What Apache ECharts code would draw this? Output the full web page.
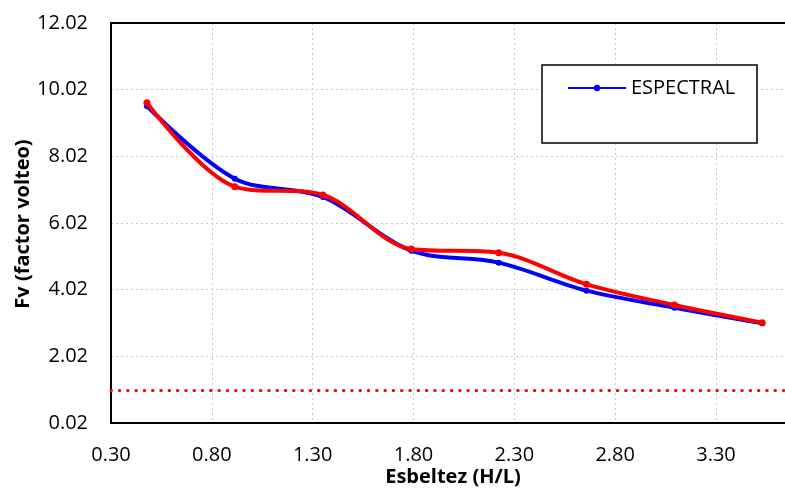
<!DOCTYPE html>
<html>
<head>
<meta charset="utf-8">
<script src="https://cdn.jsdelivr.net/npm/echarts@6/dist/echarts.min.js"></script>
<style>html,body{margin:0;padding:0;background:#fff}#c{width:785px;height:489px}</style>
</head>
<body>
<div id="c"></div>
<script>
const xValues = [0.478, 0.914, 1.351, 1.789, 2.222, 2.658, 3.094, 3.529];
const espectral = [9.53, 7.35, 6.80, 5.19, 4.83, 3.99, 3.48, 3.01];
const otra = [9.63, 7.11, 6.86, 5.24, 5.13, 4.18, 3.56, 3.03];
const limitValue = 1.0;
const seriesNames = ['ESPECTRAL', 'ESTATICO'];
const xTitle = 'Esbeltez (H/L)';
const yTitle = 'Fv (factor volteo)';

const FONT = 'Open Sans';
const chart = echarts.init(document.getElementById('c'), null, {renderer: 'canvas'});
const pairs = (xs, ys) => xs.map((x, i) => [x, ys[i]]);

chart.setOption({
  animation: false,
  backgroundColor: '#fff',
  grid: {left: 111, top: 23, right: 0, bottom: 66, containLabel: false},
  xAxis: {
    type: 'value', min: 0.3, max: 3.642, interval: 0.5,
    axisLine: {show: true, onZero: false, lineStyle: {color: '#000', width: 2}},
    axisTick: {show: false},
    axisLabel: {color: '#000', fontFamily: FONT, fontSize: 20, margin: 22,
      showMaxLabel: false, formatter: v => v.toFixed(2)},
    splitLine: {show: true, lineStyle: {color: '#c8c8c8', type: [2, 3], width: 1}}
  },
  yAxis: {
    type: 'value', min: 0.02, max: 12.02, interval: 2,
    axisLine: {show: true, onZero: false, lineStyle: {color: '#000', width: 2}},
    axisTick: {show: false},
    axisLabel: {color: '#000', fontFamily: FONT, fontSize: 20, margin: 23,
      formatter: v => v.toFixed(2)},
    splitLine: {show: true, lineStyle: {color: '#c8c8c8', type: [2, 3], width: 1}}
  },
  legend: {
    show: true, data: [seriesNames[0]],
    left: 567, top: 78, padding: 0, z: 10,
    orient: 'vertical', align: 'left',
    itemWidth: 58, itemHeight: 8,
    textStyle: {color: '#000', fontFamily: FONT, fontSize: 20}
  },
  graphic: [
    {type: 'rect', shape: {x: 111, y: 23, width: 700, height: 400},
     style: {fill: 'none', stroke: '#000', lineWidth: 2}, silent: true, z: 2},
    {type: 'rect', shape: {x: 542, y: 65, width: 215, height: 78},
     style: {fill: '#fff', stroke: '#000', lineWidth: 1.5}, silent: true, z: 5},
    {type: 'text', x: 453, y: 477,
     style: {text: xTitle, font: 'bold 20px "Open Sans"', fill: '#000', textAlign: 'center', textVerticalAlign: 'middle'}},
    {type: 'text', x: 23, y: 224, rotation: Math.PI / 2,
     style: {text: yTitle, font: 'bold 20px "Open Sans"', fill: '#000', textAlign: 'center', textVerticalAlign: 'middle'}}
  ],
  series: [
    {
      name: seriesNames[0], type: 'line', smooth: 0.33,
      data: pairs(xValues, espectral),
      symbol: 'circle', symbolSize: 6,
      lineStyle: {color: '#0000ff', width: 4},
      itemStyle: {color: '#0000ff'}, z: 3
    },
    {
      name: seriesNames[1], type: 'line', smooth: 0.33,
      data: pairs(xValues, otra),
      symbol: 'circle', symbolSize: 7,
      lineStyle: {color: '#ff0000', width: 4},
      itemStyle: {color: '#ff0000'}, z: 4,
      markLine: {
        silent: true, symbol: ['none', 'none'], label: {show: false},
        lineStyle: {color: '#ff0000', type: [0.5, 7.8], width: 3, cap: 'round'},
        data: [{yAxis: limitValue}]
      }
    }
  ]
});
</script>
</body>
</html>
